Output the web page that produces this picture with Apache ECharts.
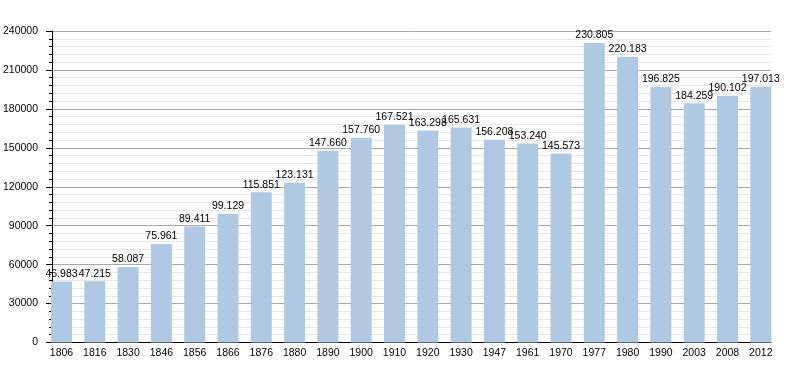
<!DOCTYPE html>
<html>
<head>
<meta charset="utf-8">
<script src="https://cdn.jsdelivr.net/npm/echarts@6/dist/echarts.min.js"></script>
<style>
html,body{margin:0;padding:0;background:#fff;}
#chart{width:800px;height:373px;}
</style>
</head>
<body>
<div id="chart"></div>
<script>
const years = ['1806','1816','1830','1846','1856','1866','1876','1880','1890','1900','1910','1920','1930','1947','1961','1970','1977','1980','1990','2003','2008','2012'];
const population = [46983,47215,58087,75961,89411,99129,115851,123131,147660,157760,167521,163298,165631,156208,153240,145573,230805,220183,196825,184259,190102,197013];
const yMin = 0, yMax = 240000, yStep = 30000;

function fmt(v){ return String(v).replace(/\B(?=(\d{3})+(?!\d))/g, '.'); }

const chart = echarts.init(document.getElementById('chart'), null, {renderer:'canvas'});
const font = 'Liberation Sans, Arial, sans-serif';
chart.setOption({
  animation:false,
  backgroundColor:'#fff',
  grid:[
    {left:44.85, width:732.6, top:31, bottom:30.5, containLabel:false},
    {left:51, width:720, top:31, bottom:30.5, containLabel:false}
  ],
  xAxis:[
    {type:'category', gridIndex:0, data:years, boundaryGap:true,
     axisLine:{show:false}, axisTick:{show:false},
     axisLabel:{color:'#000', fontSize:10.5, fontFamily:font, margin:5, interval:0},
     splitLine:{show:false}},
    {type:'category', gridIndex:1, data:years,
     axisLine:{show:true, lineStyle:{color:'#000', width:1}}, axisTick:{show:false},
     axisLabel:{show:false}, splitLine:{show:false}}
  ],
  yAxis:[
    {type:'value', gridIndex:0, min:yMin, max:yMax, interval:yStep, show:false,
     splitLine:{show:false}},
    {type:'value', gridIndex:1, min:yMin, max:yMax, interval:yStep,
     axisLine:{show:true, lineStyle:{color:'#000', width:1}},
     axisTick:{show:true, length:6, lineStyle:{color:'#000'}},
     minorTick:{show:true, splitNumber:5, length:3, lineStyle:{color:'#000'}},
     axisLabel:{color:'#000', fontSize:10.5, fontFamily:font, margin:14, formatter:v=>String(v)},
     splitLine:{show:true, lineStyle:{color:'#a8a8a8', width:1}},
     minorSplitLine:{show:true, lineStyle:{color:'#e6e6e6', width:1}}}
  ],
  series:[{
    type:'bar', xAxisIndex:0, yAxisIndex:0, data:population, barWidth:21,
    itemStyle:{color:'#b0c9e3'},
    label:{show:true, position:'top', distance:2, color:'#000', fontSize:10.5, fontFamily:font,
      formatter:p=>fmt(p.value)}
  }]
});
</script>
</body>
</html>
